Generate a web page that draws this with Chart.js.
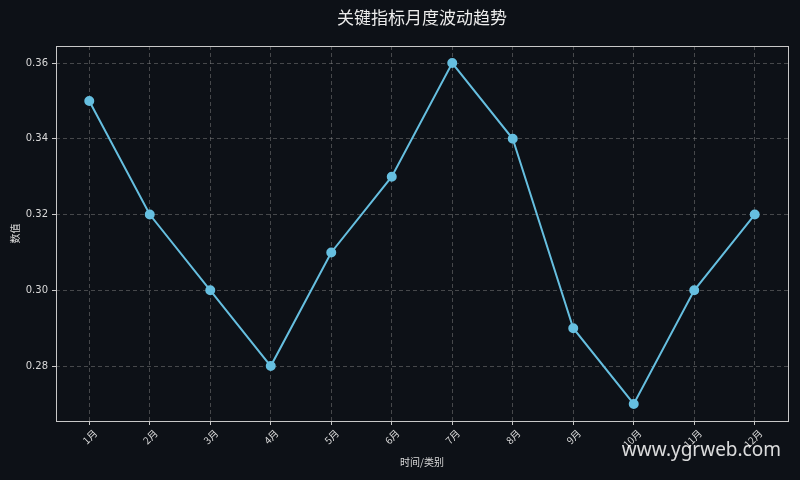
<!DOCTYPE html>
<html><head><meta charset="utf-8">
<script src="https://cdn.jsdelivr.net/npm/chart.js@4/dist/chart.umd.min.js"></script>
<style>
html,body{margin:0;padding:0;background:#0d1117;}
#wrap{width:800px;height:480px;position:relative;}
</style></head>
<body><div id="wrap"><canvas id="c" width="800" height="480"></canvas></div>
<script>
const categories = ['1月','2月','3月','4月','5月','6月','7月','8月','9月','10月','11月','12月'];
const values = [0.35,0.32,0.30,0.28,0.31,0.33,0.36,0.34,0.29,0.27,0.30,0.32];
const yTickValues = [0.28,0.30,0.32,0.34,0.36];
const titleText = '关键指标月度波动趋势';
const xTitle = '时间/类别';
const yTitle = '数值';
const watermark = 'www.ygrweb.com';

const CJK = '"Noto Sans CJK SC", "DejaVu Sans", sans-serif';
const textColor = '#d9d9d9';

const frame = {
  id: 'frame',
  afterDraw(chart) {
    const {ctx, chartArea: a} = chart;
    ctx.save();
    ctx.strokeStyle = '#c8c8c8';
    ctx.lineWidth = 1;
    ctx.setLineDash([]);
    ctx.strokeRect(Math.round(a.left)+0.5, Math.round(a.top)+0.5, Math.round(a.right-a.left), Math.round(a.bottom-a.top));
    // title centered over plot area
    ctx.font = '17px ' + CJK;
    ctx.fillStyle = '#ececec';
    ctx.textAlign = 'center';
    ctx.textBaseline = 'middle';
    ctx.fillText(titleText, (a.left + a.right) / 2, 18);
    // watermark
    ctx.font = '19px "Noto Sans", "Open Sans", sans-serif';
    ctx.fillStyle = 'rgba(255,255,255,0.85)';
    ctx.textAlign = 'right';
    ctx.textBaseline = 'alphabetic';
    ctx.fillText(watermark, 781, 456);
    ctx.restore();
  }
};

new Chart(document.getElementById('c'), {
  type: 'line',
  data: {
    datasets: [{
      data: values.map((v, i) => ({x: i, y: v})),
      borderColor: '#66bfe0',
      backgroundColor: '#66bfe0',
      borderWidth: 2,
      pointRadius: 4,
      pointHoverRadius: 4,
      tension: 0,
      fill: false
    }]
  },
  options: {
    responsive: false,
    animation: false,
    layout: {padding: {left: 0, right: 12, top: 46, bottom: 0}},
    plugins: {
      legend: {display: false},
      tooltip: {enabled: false},
      title: {display: false}
    },
    scales: {
      x: {
        type: 'linear', min: -0.55, max: 11.55,
        afterFit(s) { s.height = 59; },
        afterBuildTicks(s) { s.ticks = categories.map((_, i) => ({value: i})); },
        ticks: {
          color: textColor, font: {family: CJK, size: 10},
          maxRotation: 45, minRotation: 45, padding: 2, labelOffset: 6,
          callback: (v) => categories[v]
        },
        grid: {color: 'rgba(140,140,140,0.45)', tickColor: '#c8c8c8', tickLength: 4, tickBorderDash: []},
        border: {display: false, dash: [4, 3]},
        title: {display: true, text: xTitle, color: textColor, font: {family: CJK, size: 10}, padding: {top: 0, bottom: 12}}
      },
      y: {
        min: 0.2655, max: 0.3645,
        afterFit(s) { s.width = 56; },
        afterBuildTicks(s) { s.ticks = yTickValues.map(v => ({value: v})); },
        ticks: {
          color: textColor, font: {family: '"DejaVu Sans", sans-serif', size: 10}, padding: 4,
          callback: (v) => v.toFixed(2)
        },
        grid: {color: 'rgba(140,140,140,0.45)', tickColor: '#c8c8c8', tickLength: 4, tickBorderDash: []},
        border: {display: false, dash: [4, 3]},
        title: {display: true, text: yTitle, color: textColor, font: {family: CJK, size: 10}, padding: {top: 9, bottom: 6}}
      }
    }
  },
  plugins: [frame]
});
</script></body></html>
